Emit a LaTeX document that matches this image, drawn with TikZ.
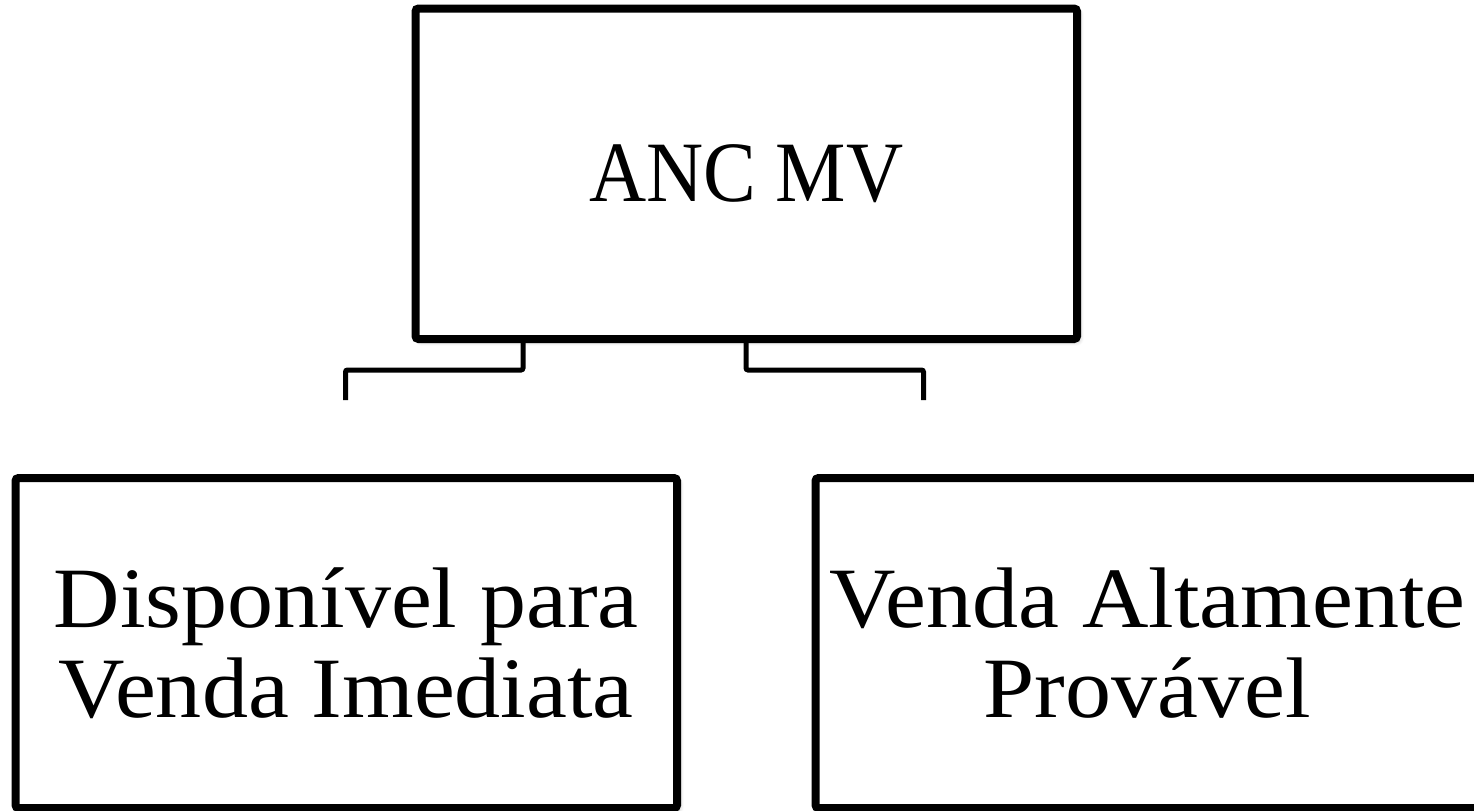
\documentclass[tikz,border=0pt]{standalone}
\usepackage{fontspec}
\setmainfont{Liberation Serif}
\newfontfamily\widefont[FakeStretch=1.07]{Liberation Serif}
\newfontfamily\narrowfont[FakeStretch=0.92]{Liberation Serif}
\usetikzlibrary{shadows.blur}
\begin{document}
\begin{tikzpicture}[x=0.5pt,y=-0.5pt,
  boxnode/.style={draw=black, line width=4pt, fill=white, rounded corners=1.5pt,
    inner sep=0pt, align=center,
    blur shadow={shadow xshift=1.5pt, shadow yshift=-1.5pt, shadow blur steps=6, shadow opacity=25, shadow blur radius=2pt}},
  conn/.style={draw=black, line width=2.5pt, rounded corners=1pt}]
\useasboundingbox (0,0) rectangle (1474,810);
\begin{scope}
\clip (0,0) rectangle (1474,810);
\node[boxnode, minimum width=330.75pt, minimum height=165.25pt, font=\narrowfont\fontsize{43}{45}\selectfont] (top) at (746.25,173.75) {ANC MV};
\node[boxnode, minimum width=330.75pt, minimum height=165pt, font=\widefont\fontsize{43}{45}\selectfont] (left) at (346.25,643) {Disponível para\\Venda Imediata};
\node[boxnode, minimum width=331.75pt, minimum height=165pt, font=\widefont\fontsize{43}{45}\selectfont] (right) at (1147.25,643) {Venda Altamente\\Provável};
\coordinate (lend) at (345.5,400);
\coordinate (rend) at (923.5,400);
\draw[conn] (top.south -| 523,0) -- (523,370) -- (lend |- 0,370) -- (lend);
\draw[conn] (top.south -| 746,0) -- (746,370) -- (rend |- 0,370) -- (rend);
\end{scope}
\end{tikzpicture}
\end{document}
